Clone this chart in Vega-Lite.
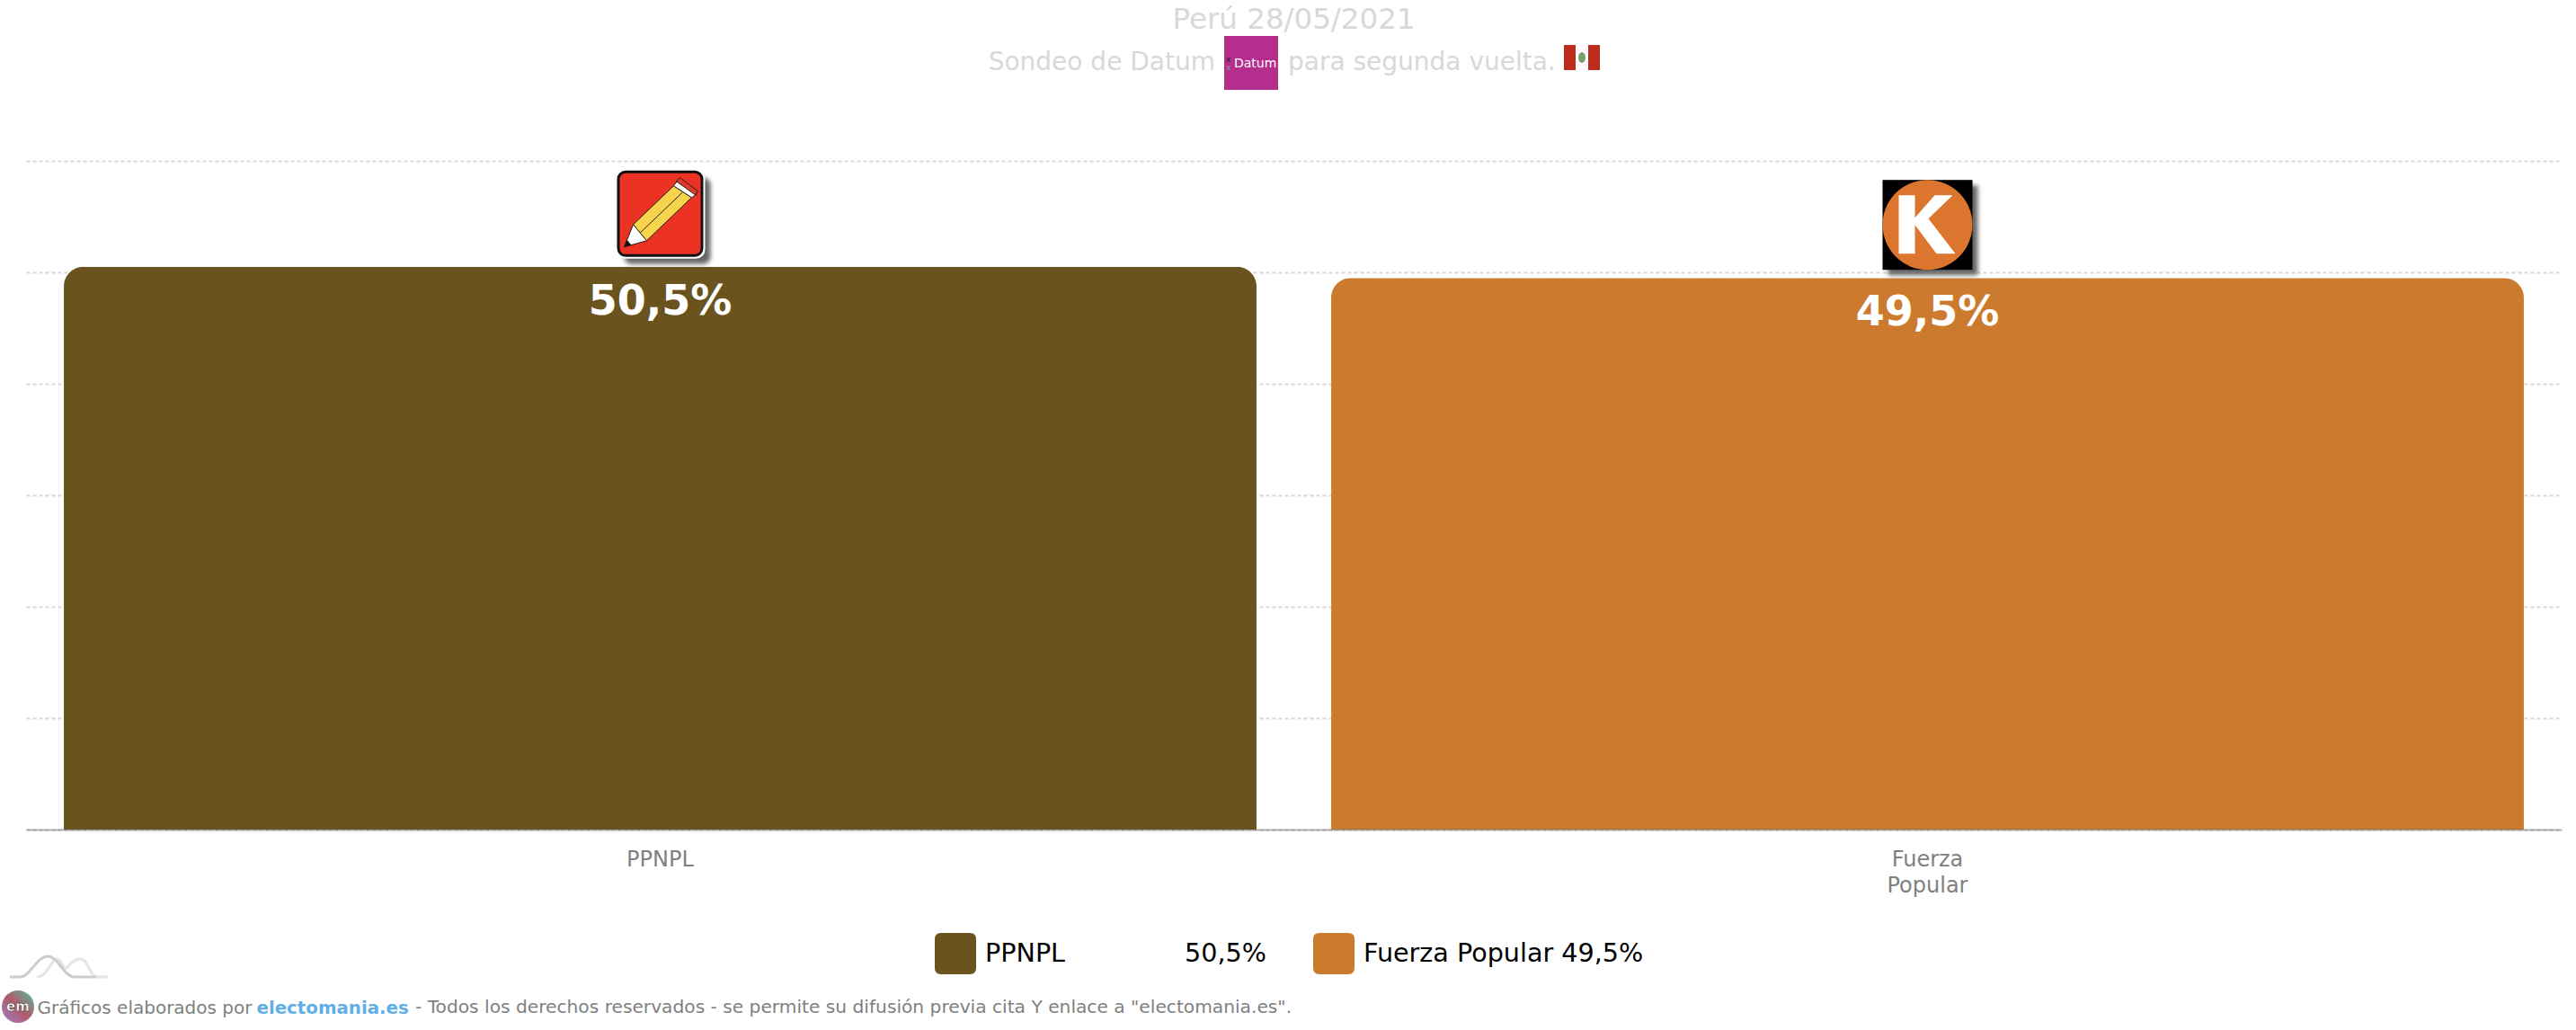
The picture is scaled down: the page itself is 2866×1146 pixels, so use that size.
{
  "$schema": "https://vega.github.io/schema/vega-lite/v6.json",
  "description": "Sondeo de Datum para segunda vuelta, Perú 28/05/2021",
  "width": 2821,
  "height": 744,
  "autosize": {"type": "none"},
  "padding": {"left": 29, "top": 179, "right": 16, "bottom": 223},
  "background": "white",
  "config": {"view": {"stroke": null}},
  "title": {
    "text": "Perú 28/05/2021",
    "anchor": "middle",
    "frame": "group",
    "font": "DejaVu Sans",
    "fontSize": 32.5,
    "fontWeight": "normal",
    "color": "#d8d8d8",
    "offset": 1.5
  },
  "data": {
    "values": [
      {"partido": "PPNPL", "voto": 50.5, "texto": "50,5%", "etiqueta": "PPNPL\u00a0\u00a0\u00a0\u00a0\u00a0\u00a0\u00a0\u00a0\u00a0\u00a0\u00a0\u00a0\u00a0\u00a0\u200950,5%", "logo": "data:image/svg+xml,<svg xmlns='http://www.w3.org/2000/svg' width='130' height='130'><defs><filter id='s'><feGaussianBlur stdDeviation='2.5'/></filter></defs><rect x='25' y='25' width='96' height='96' rx='8' fill='%23666' filter='url(%23s)'/><rect x='15' y='15' width='100' height='100' rx='10' fill='%23fff'/><g transform='translate(17 17)'><rect x='1.5' y='1.5' width='93' height='93' rx='8' fill='%23ec3323' stroke='%23111' stroke-width='3'/><polygon points='18,60 33,78 83,30 63,17' fill='%23f7d44c' stroke='%23222' stroke-width='1'/><line x1='26' y1='69' x2='73' y2='24' stroke='%23222' stroke-width='1'/><polygon points='8,85 18,60 33,78' fill='%23fff' stroke='%23222' stroke-width='1'/><polygon points='8,85 11,77 16,83' fill='%23111'/><polygon points='63,17 68,10 89,26 83,30' fill='%23fff' stroke='%23222' stroke-width='1'/><polygon points='66,12 70,8 90,23 87,27' fill='%23e03a2a' stroke='%23222' stroke-width='1'/></g></svg>"},
      {"partido": "Fuerza Popular", "voto": 49.5, "texto": "49,5%", "etiqueta": "Fuerza Popular 49,5%", "logo": "data:image/svg+xml,<svg xmlns='http://www.w3.org/2000/svg' width='130' height='130'><defs><filter id='s'><feGaussianBlur stdDeviation='2.5'/></filter></defs><rect x='21' y='21' width='100' height='100' fill='%23666' filter='url(%23s)'/><g transform='translate(15 15)'><rect width='100' height='100' fill='%23000'/><circle cx='50' cy='50' r='50' fill='%23dc762e'/><polygon points='18,17 36,17 36,42 58,17 78,17 51,43 81,82 60,82 36,50 36,82 18,82' fill='%23fff'/></g></svg>"}
    ]
  },
  "layer": [
    {
      "mark": {"type": "bar", "cornerRadiusTopLeft": 22, "cornerRadiusTopRight": 22},
      "encoding": {
        "x": {
          "field": "partido",
          "type": "nominal",
          "sort": null,
          "scale": {"domain": ["PPNPL", "Fuerza Popular"], "paddingInner": 0.0589, "paddingOuter": 0.0298},
          "axis": {
            "title": "Gráficos elaborados por",
            "titleFont": "DejaVu Sans",
            "titleFontSize": 20,
            "titleFontWeight": "normal",
            "titleColor": "#808080",
            "titleAnchor": "start",
            "titleAlign": "left",
            "titleBaseline": "alphabetic",
            "titleX": 12,
            "titleY": 204,
            "labelAngle": 0,
            "labelFont": "DejaVu Sans",
            "labelFontSize": 24,
            "labelColor": "#808080",
            "labelPadding": 21,
            "labelLineHeight": 29,
            "labelOverlap": false,
            "labelExpr": "datum.label == 'Fuerza Popular' ? ['Fuerza', 'Popular'] : datum.label",
            "ticks": false,
            "domain": true,
            "domainColor": "#555555",
            "domainOpacity": 0.45,
            "domainWidth": 2,
            "zindex": 1
          }
        },
        "y": {
          "field": "voto",
          "type": "quantitative",
          "scale": {"domain": [0, 60], "nice": false},
          "axis": {
            "values": [0, 10, 20, 30, 40, 50, 60],
            "title": "electomania.es",
            "titleFont": "DejaVu Sans",
            "titleFontSize": 19.8,
            "titleFontWeight": "bold",
            "titleColor": "#62aee6",
            "titleAngle": 0,
            "titleAlign": "left",
            "titleBaseline": "alphabetic",
            "titleX": 256,
            "titleY": 948,
            "labels": false,
            "ticks": false,
            "domain": false,
            "grid": true,
            "gridColor": "#d8d8d8",
            "gridWidth": 2,
            "gridDash": [4, 3]
          }
        },
        "color": {
          "field": "etiqueta",
          "type": "nominal",
          "sort": null,
          "scale": {"range": ["#6b531e", "#cc7b2e"]},
          "legend": {
            "title": null,
            "orient": "none",
            "legendX": 1011,
            "legendY": 859,
            "direction": "horizontal",
            "columns": 2,
            "columnPadding": 52,
            "padding": 0,
            "symbolType": "M-0.7,-1 H0.7 Q1,-1 1,-0.7 V0.7 Q1,1 0.7,1 H-0.7 Q-1,1 -1,0.7 V-0.7 Q-1,-1 -0.7,-1 Z",
            "symbolSize": 2116,
            "symbolStrokeWidth": 0,
            "symbolOpacity": 1,
            "labelFont": "DejaVu Sans",
            "labelFontSize": 28.6,
            "labelColor": "#000000",
            "labelOffset": 10,
            "labelLimit": 500
          }
        }
      }
    },
    {
      "mark": {"type": "text", "font": "DejaVu Sans", "fontSize": 46, "fontWeight": "bold", "color": "white", "align": "center", "baseline": "middle", "yOffset": 39},
      "encoding": {
        "x": {"field": "partido", "type": "nominal", "sort": null},
        "y": {"field": "voto", "type": "quantitative"},
        "text": {"field": "texto"}
      }
    },
    {
      "mark": {"type": "image", "width": 130, "height": 130, "align": "center", "baseline": "middle", "yOffset": -59},
      "encoding": {
        "x": {"field": "partido", "type": "nominal", "sort": null},
        "y": {"field": "voto", "type": "quantitative"},
        "url": {"field": "logo"}
      }
    },
    {
      "data": {"values": [{"texto": "Sondeo de Datum"}]},
      "mark": {"type": "text", "font": "DejaVu Sans", "fontSize": 28, "color": "#d8d8d8", "align": "right", "baseline": "alphabetic", "xOffset": 617.5},
      "encoding": {
        "x": {"datum": "PPNPL", "type": "nominal"},
        "y": {"datum": 68.15, "type": "quantitative"},
        "text": {"field": "texto"}
      }
    },
    {
      "data": {"values": [{"texto": "para segunda vuelta."}]},
      "mark": {"type": "text", "font": "DejaVu Sans", "fontSize": 28, "color": "#d8d8d8", "align": "left", "baseline": "alphabetic", "xOffset": 698.5},
      "encoding": {
        "x": {"datum": "PPNPL", "type": "nominal"},
        "y": {"datum": 68.15, "type": "quantitative"},
        "text": {"field": "texto"}
      }
    },
    {
      "data": {"values": [{"texto": "- Todos los derechos reservados - se permite su difusión previa cita Y enlace a \"electomania.es\"."}]},
      "mark": {"type": "text", "font": "DejaVu Sans", "fontSize": 20.2, "color": "#808080", "align": "left", "baseline": "alphabetic", "xOffset": -272.5},
      "encoding": {
        "x": {"datum": "PPNPL", "type": "nominal"},
        "y": {"datum": -16.45, "type": "quantitative"},
        "text": {"field": "texto"}
      }
    },
    {
      "data": {"values": [{"logo": "data:image/svg+xml,<svg xmlns='http://www.w3.org/2000/svg' width='60' height='60'><rect width='60' height='60' fill='%23b52e8e'/><text x='11' y='35' font-family='DejaVu Sans' font-size='14' fill='%23fff'>Datum</text><text x='2' y='29' font-family='DejaVu Sans' font-size='9' fill='%23222'>x</text><text x='2' y='38' font-family='DejaVu Sans' font-size='9' fill='%23999'>x</text></svg>"}]},
      "mark": {"type": "image", "width": 60, "height": 60, "align": "center", "baseline": "middle", "xOffset": 657.5},
      "encoding": {
        "x": {"datum": "PPNPL", "type": "nominal"},
        "y": {"datum": 68.79, "type": "quantitative"},
        "url": {"field": "logo"}
      }
    },
    {
      "data": {"values": [{"logo": "data:image/svg+xml,<svg xmlns='http://www.w3.org/2000/svg' width='40' height='28'><rect width='40' height='28' fill='%23fff'/><rect width='13' height='28' fill='%23bd2a1e'/><rect x='27' width='13' height='28' fill='%23bd2a1e'/><ellipse cx='20' cy='14' rx='4' ry='6' fill='%2374a070'/></svg>"}]},
      "mark": {"type": "image", "width": 40, "height": 28, "align": "center", "baseline": "middle", "xOffset": 1025.5},
      "encoding": {
        "x": {"datum": "PPNPL", "type": "nominal"},
        "y": {"datum": 69.27, "type": "quantitative"},
        "url": {"field": "logo"}
      }
    },
    {
      "data": {"values": [{"logo": "data:image/svg+xml,<svg xmlns='http://www.w3.org/2000/svg' width='110' height='28'><path d='M30,25 C42,25 46,5 52,5 C58,5 58,15 62,15 C66,15 68,5 78,5 C88,5 88,25 98,25 H109' fill='none' stroke='%23e4e4e4' stroke-width='3'/><path d='M0,25 H12 C22,25 30,2 42,2 C54,2 60,25 72,25 H96' fill='none' stroke='%23cccccc' stroke-width='3'/></svg>"}]},
      "mark": {"type": "image", "width": 110, "height": 28, "align": "center", "baseline": "middle", "xOffset": -668.5},
      "encoding": {
        "x": {"datum": "PPNPL", "type": "nominal"},
        "y": {"datum": -12.34, "type": "quantitative"},
        "url": {"field": "logo"}
      }
    },
    {
      "data": {"values": [{"logo": "data:image/svg+xml,<svg xmlns='http://www.w3.org/2000/svg' width='36' height='36'><defs><linearGradient id='g' x1='1' y1='0' x2='0' y2='1'><stop offset='0' stop-color='%2355c0a0'/><stop offset='0.5' stop-color='%23b05a6a'/><stop offset='1' stop-color='%23a080c8'/></linearGradient></defs><circle cx='18' cy='18' r='18' fill='url(%23g)'/><text x='18' y='23' text-anchor='middle' font-family='DejaVu Sans' font-weight='bold' font-size='15' fill='%23fff' stroke='%23333' stroke-width='0.5'>em</text></svg>"}]},
      "mark": {"type": "image", "width": 36, "height": 36, "align": "center", "baseline": "middle", "xOffset": -714.5},
      "encoding": {
        "x": {"datum": "PPNPL", "type": "nominal"},
        "y": {"datum": -15.89, "type": "quantitative"},
        "url": {"field": "logo"}
      }
    }
  ]
}
